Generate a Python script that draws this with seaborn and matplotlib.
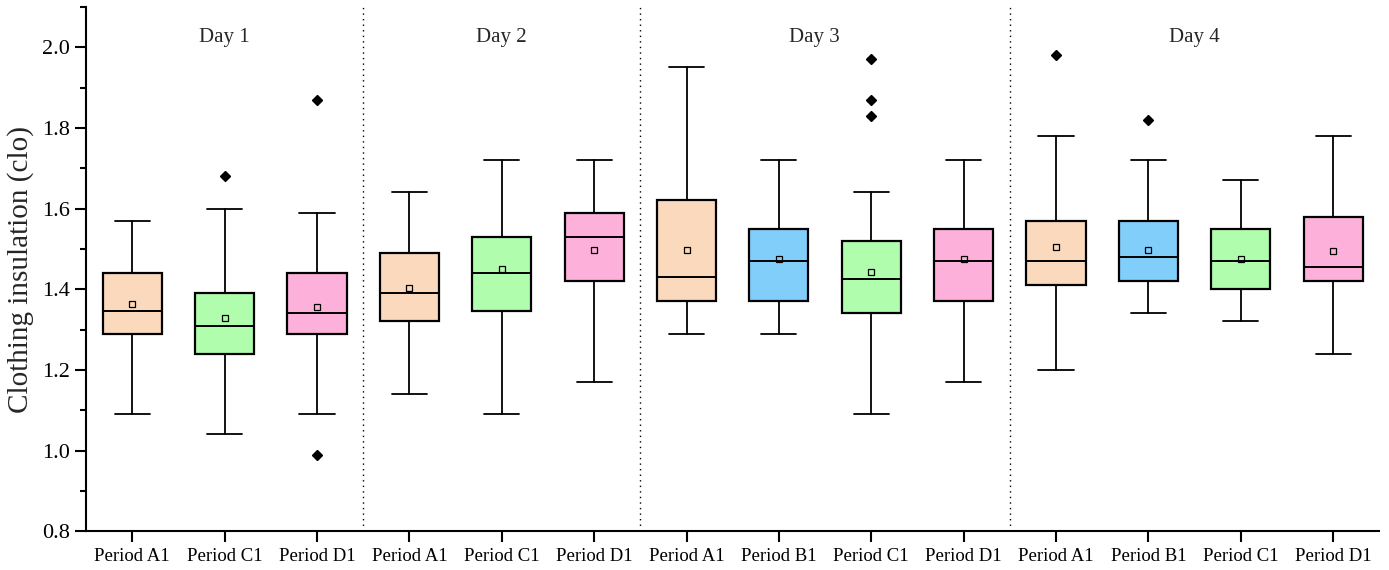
import matplotlib
matplotlib.use("Agg")
import matplotlib.pyplot as plt
from matplotlib.ticker import MultipleLocator
import seaborn as sns

# Box statistics per period (clo)
labels = ["Period A1", "Period C1", "Period D1",
          "Period A1", "Period C1", "Period D1",
          "Period A1", "Period B1", "Period C1", "Period D1",
          "Period A1", "Period B1", "Period C1", "Period D1"]
periods = ["A", "C", "D", "A", "C", "D", "A", "B", "C", "D", "A", "B", "C", "D"]
whisker_low = [1.09, 1.04, 1.09, 1.14, 1.09, 1.17, 1.29, 1.29, 1.09, 1.17, 1.20, 1.34, 1.32, 1.24]
q1 = [1.29, 1.24, 1.29, 1.32, 1.345, 1.42, 1.37, 1.37, 1.34, 1.37, 1.41, 1.42, 1.40, 1.42]
median = [1.345, 1.31, 1.34, 1.39, 1.44, 1.53, 1.43, 1.47, 1.425, 1.47, 1.47, 1.48, 1.47, 1.455]
q3 = [1.44, 1.39, 1.44, 1.49, 1.53, 1.59, 1.62, 1.55, 1.52, 1.55, 1.57, 1.57, 1.55, 1.58]
whisker_high = [1.57, 1.60, 1.59, 1.64, 1.72, 1.72, 1.95, 1.72, 1.64, 1.72, 1.78, 1.72, 1.67, 1.78]
mean = [1.363, 1.328, 1.357, 1.402, 1.45, 1.498, 1.498, 1.475, 1.442, 1.475, 1.505, 1.496, 1.475, 1.495]
outliers = [[], [1.68], [1.87, 0.99], [], [], [], [], [], [1.97, 1.87, 1.83], [], [1.98], [1.82], [], []]

days = ["Day 1", "Day 2", "Day 3", "Day 4"]
day_centers = [1.0, 4.0, 7.38, 11.5]
day_bounds = [2.5, 5.5, 9.5]

period_colors = {"A": "#FAD9BD", "B": "#82CEFB", "C": "#B0FDAE", "D": "#FDB1DA"}

sns.set_theme(style="ticks")
plt.rcParams["font.family"] = ["Liberation Serif", "DejaVu Serif"]

fig = plt.figure(figsize=(13.89, 5.70), dpi=100)
ax = fig.add_axes([0.062, 0.068, 0.931, 0.920])

stats = []
for i in range(len(labels)):
    stats.append(dict(label=labels[i], whislo=whisker_low[i], q1=q1[i], med=median[i],
                      q3=q3[i], whishi=whisker_high[i], mean=mean[i], fliers=outliers[i]))

positions = list(range(len(labels)))
bp = ax.bxp(stats, positions=positions, widths=0.64, capwidths=0.38,
            showmeans=True, patch_artist=True,
            boxprops=dict(edgecolor="black", linewidth=1.6),
            medianprops=dict(color="black", linewidth=1.4),
            whiskerprops=dict(color="black", linewidth=1.3),
            capprops=dict(color="black", linewidth=1.3),
            meanprops=dict(marker="s", markerfacecolor="none", markeredgecolor="black",
                           markersize=4.8, markeredgewidth=0.9),
            flierprops=dict(marker="D", markerfacecolor="black", markeredgecolor="black",
                            markersize=5.5))
for patch, p in zip(bp["boxes"], periods):
    patch.set_facecolor(period_colors[p])

for b in day_bounds:
    ax.axvline(b, color="black", linestyle=(0, (1, 3)), linewidth=1.0)

for d, c in zip(days, day_centers):
    ax.text(c, 2.025, d, ha="center", va="center", fontsize=15)

ax.set_xlim(-0.5, 13.5)
ax.set_ylim(0.8, 2.1)
ax.yaxis.set_minor_locator(MultipleLocator(0.1))
ax.set_yticks([0.8, 1.0, 1.2, 1.4, 1.6, 1.8, 2.0])
ax.set_yticklabels(["0.8", "1.0", "1.2", "1.4", "1.6", "1.8", "2.0"], fontsize=16)
ax.set_xticks(positions)
ax.set_xticklabels(labels, fontsize=13.5)
ax.set_ylabel("Clothing insulation (clo)", fontsize=21, labelpad=6)

sns.despine(ax=ax)
for s in ["left", "bottom"]:
    ax.spines[s].set_linewidth(1.5)
    ax.spines[s].set_color("black")
ax.tick_params(axis="both", which="major", direction="out", length=8, width=1.5,
               color="black", labelcolor="black")
ax.tick_params(axis="y", which="minor", direction="out", length=4.5, width=1.5, color="black")
ax.tick_params(axis="x", which="major", pad=4)

fig.savefig("out.png", dpi=100)
